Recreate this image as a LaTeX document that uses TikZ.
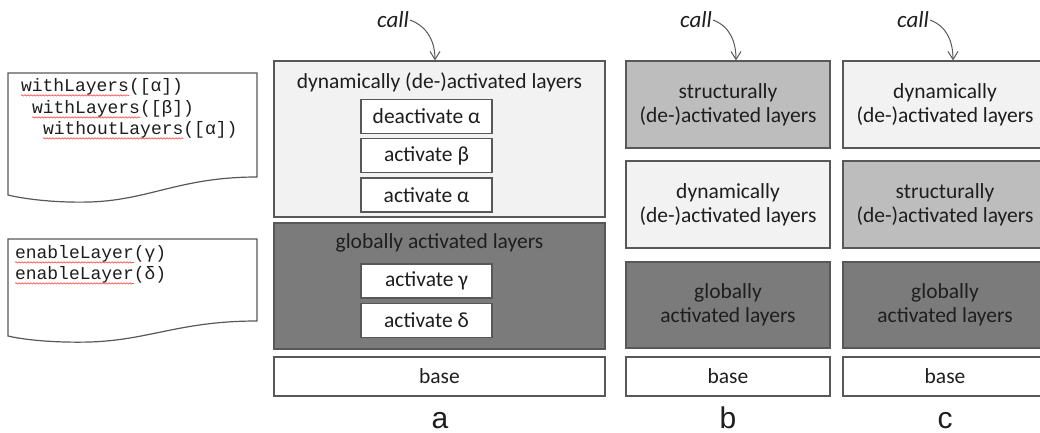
\documentclass[tikz,border=0pt]{standalone}
\usepackage{fontspec}
\setmainfont{Carlito}
\newfontfamily\codefont{Liberation Mono}
\newfontfamily\labfont{Liberation Sans}
\usetikzlibrary{arrows.meta}
\usetikzlibrary{calc}
\usetikzlibrary{positioning}
\usetikzlibrary{decorations.pathmorphing}
\definecolor{lightfill}{HTML}{F2F2F2}
\definecolor{midfill}{HTML}{BDBDBD}
\definecolor{darkfill}{HTML}{7B7B7B}
\definecolor{edge}{HTML}{585858}
\definecolor{ink}{HTML}{1E1E1E}

\begin{document}
\begin{tikzpicture}[x=1pt, y=-1pt,
    layer/.style={draw=edge, line width=1.2pt, minimum width=204pt, align=center, inner sep=0pt,
      text=ink, font=\fontsize{21.5}{24}\selectfont},
    act/.style={draw=edge, line width=1.2pt, fill=white, minimum width=131pt, minimum height=34pt,
      inner sep=0pt, text=ink, font=\fontsize{21.5}{24}\selectfont},
    head/.style={text=ink, font=\fontsize{21.5}{24}\selectfont},
    code/.style={inner sep=0pt, outer sep=0pt, text=ink, font=\codefont\fontsize{18}{20}\selectfont},
    spell/.style={red, line width=0.4pt, decorate, decoration={snake, amplitude=0.7pt, segment length=3pt}},
    callnote/.style={anchor=base, inner sep=1pt, text=ink, font=\itshape\fontsize{23}{26}\selectfont},
    callarrow/.style={-{Straight Barb[length=8pt, width=10pt]}, draw=edge, line width=1pt},
    panel/.style={anchor=base, text=ink, font=\labfont\fontsize{30}{34}\selectfont}]
    \useasboundingbox (0,0) rectangle (1040,433);

    \draw[edge, line width=1.2pt, fill=white] (8,73) -- (257,73) -- (257,177)
      .. controls (180,177) and (150,200) .. (90,202)
      .. controls (50,203) and (20,198) .. (8,195) -- cycle;
    \draw[edge, line width=1.2pt, fill=white] (8,239) -- (257,239) -- (257,321)
      .. controls (180,321) and (150,340) .. (90,342)
      .. controls (50,343) and (20,339) .. (8,336) -- cycle;

    \node[code, anchor=west] (w1) at (21,87) {withLayers};
    \node[code, anchor=base west] (r1) at (w1.base east) {([α])};
    \node[code, anchor=west] (w2) at (32,109) {withLayers};
    \node[code, anchor=base west] (r2) at (w2.base east) {([β])};
    \node[code, anchor=west] (w3) at (43,130) {withoutLayers};
    \node[code, anchor=base west] (r3) at (w3.base east) {([α])};
    \node[code, anchor=west] (w4) at (15,254) {enableLayer};
    \node[code, anchor=base west] (r4) at (w4.base east) {(γ)};
    \node[code, anchor=west] (w5) at (15,275) {enableLayer};
    \node[code, anchor=base west] (r5) at (w5.base east) {(δ)};
    \foreach \w in {w1,w2,w3,w4,w5} {
      \draw[spell] (\w.south west) -- (\w.south east);
    }

    \node[layer, fill=lightfill, minimum width=331pt, minimum height=156pt] (dynA) at (439.5,139) {};
    \node[head] (dynhead) at (439.5,82) {dynamically (de-)activated layers};
    \node[act] (deacA) at (426.5,116.5) {deactivate α};
    \node[act, below=4pt of deacA] (actbA) {activate β};
    \node[act, below=4pt of actbA] (actaA) {activate α};

    \node[layer, fill=darkfill, minimum width=331pt, minimum height=126pt] (globA) at (439.5,286) {};
    \node[head] (globhead) at (439.5,243) {globally activated layers};
    \node[act] (actgA) at (426.5,281) {activate γ};
    \node[act, below=4pt of actgA] (actdA) {activate δ};

    \node[layer, fill=white, minimum width=331pt, minimum height=39pt] (baseA) at (439.5,376.5) {base};
    \node[panel] (laba) at (440,428) {a};
    \node[callnote] (calla) at (393,28) {call};
    \draw[callarrow] (calla.east) to[out=-20, in=90] ($(dynA.north)+(-4.5,0)$);

    \foreach \x/\p/\ua/\fa/\ub/\fb in {728/b/structurally/midfill/dynamically/lightfill,
        945/c/dynamically/lightfill/structurally/midfill} {
      \node[layer, fill=\fa, minimum height=87pt] (top\p) at (\x,104.5) {\ua\\(de-)activated layers};
      \node[layer, fill=\fb, minimum height=87pt] (mid\p) at (\x,204.5) {\ub\\(de-)activated layers};
      \node[layer, fill=darkfill, minimum height=86pt] (glob\p) at (\x,305) {globally\\activated layers};
      \node[layer, fill=white, minimum height=39pt] (base\p) at (\x,376.5) {base};
      \node[panel] (lab\p) at (\x,428) {\p};
      \node[callnote] (call\p) at (\x-32,28) {call};
      \draw[callarrow] (call\p.east) to[out=-20, in=90] ($(top\p.north)+(8,0)$);
    }
  \end{tikzpicture}
\end{document}
